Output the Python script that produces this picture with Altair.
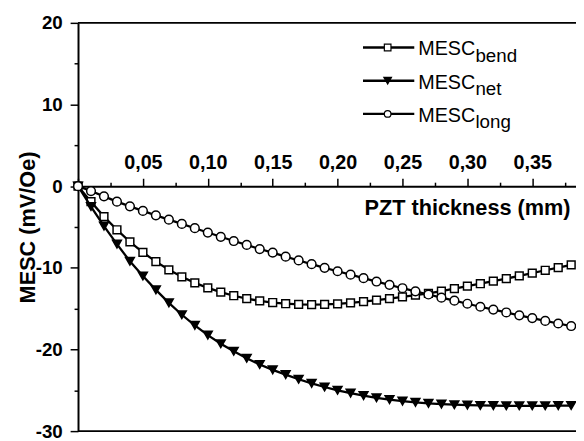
import altair as alt
import pandas as pd

# ---- data ----
thickness = [0.00, 0.01, 0.02, 0.03, 0.04, 0.05, 0.06, 0.07, 0.08, 0.09,
             0.10, 0.11, 0.12, 0.13, 0.14, 0.15, 0.16, 0.17, 0.18, 0.19,
             0.20, 0.21, 0.22, 0.23, 0.24, 0.25, 0.26, 0.27, 0.28, 0.29,
             0.30, 0.31, 0.32, 0.33, 0.34, 0.35, 0.36, 0.37, 0.38]

mesc_bend = [0.0, -1.9, -3.73, -5.34, -6.83, -8.11, -9.24, -10.24, -11.1, -11.84,
             -12.45, -12.98, -13.42, -13.77, -14.05, -14.25, -14.4, -14.47, -14.5, -14.48,
             -14.42, -14.3, -14.15, -13.97, -13.77, -13.56, -13.35, -13.12, -12.85, -12.55,
             -12.25, -11.95, -11.63, -11.32, -10.98, -10.65, -10.3, -9.97, -9.65]

mesc_net = [0.0, -2.5, -4.9, -7.1, -9.2, -11.0, -12.7, -14.3, -15.75, -17.05,
            -18.25, -19.3, -20.22, -21.08, -21.85, -22.5, -23.08, -23.65, -24.15, -24.6,
            -25.0, -25.35, -25.66, -25.92, -26.14, -26.33, -26.48, -26.6, -26.7, -26.77,
            -26.82, -26.86, -26.88, -26.9, -26.9, -26.9, -26.9, -26.88, -26.87]

mesc_long = [0.0, -0.6, -1.25, -1.9, -2.47, -3.03, -3.57, -4.1, -4.62, -5.15,
             -5.68, -6.2, -6.72, -7.2, -7.7, -8.15, -8.63, -9.1, -9.55, -10.0,
             -10.42, -10.84, -11.27, -11.68, -12.08, -12.5, -12.88, -13.27, -13.66, -14.03,
             -14.4, -14.77, -15.12, -15.47, -15.82, -16.16, -16.5, -16.82, -17.13]

x_ticks = [0.0, 0.025, 0.05, 0.075, 0.1, 0.125, 0.15, 0.175, 0.2, 0.225,
           0.25, 0.275, 0.3, 0.325, 0.35, 0.375]
y_ticks = [-30, -25, -20, -15, -10, -5, 0, 5, 10, 15, 20]

series_keys = ["bend", "net", "long"]
series_shapes = ["square", "triangle-down", "circle"]
series_fills = ["white", "black", "white"]
series_sizes = [62, 80, 78]

rows = []
for key, vals in zip(series_keys, [mesc_bend, mesc_net, mesc_long]):
    for t, v in zip(thickness, vals):
        rows.append({"t": t, "v": v, "s": key})
df = pd.DataFrame(rows)

# ---- layout ----
W, H = 505, 414
X_MAX = 0.3837
ZERO_Y = H * 20 / 50

FONT = "Liberation Sans, Arial, Helvetica, sans-serif"

x_major = "abs(datum.value*20 - round(datum.value*20)) < 0.001"

x_axis = alt.Axis(
    orient="top", offset=-ZERO_Y, values=x_ticks,
    labelExpr="(" + x_major + " && datum.value > 0.001) ? replace(format(datum.value, '.2f'), '.', ',') : ''",
    tickSize={"condition": {"test": x_major, "value": 8}, "value": 4},
    tickWidth=1.5, tickColor="black", domainColor="black", domainWidth=2,
    labelFont=FONT, labelFontWeight="bold", labelFontSize=20, labelColor="black",
    labelPadding=6, labelOverlap=False, labelFlush=False, labelBound=False, grid=False,
    title="PZT thickness (mm)", titleFont=FONT, titleFontSize=22, titleFontWeight="bold",
    titleColor="black", titleX=499, titleY=28.5, titleAlign="right",
    titleBaseline="alphabetic", titleAngle=0,
)

y_axis = alt.Axis(
    orient="left", values=y_ticks,
    labelExpr="datum.value % 10 == 0 ? toString(datum.value) : ''",
    tickSize={"condition": {"test": "datum.value % 10 == 0", "value": 8}, "value": 4},
    tickWidth=1.5, tickColor="black", domainColor="black", domainWidth=2,
    labelFont=FONT, labelFontWeight="bold", labelFontSize=19, labelColor="black",
    labelPadding=8, labelOverlap=False, labelFlush=False, labelBound=False, grid=False,
    title="MESC (mV/Oe)", titleFont=FONT, titleFontSize=22, titleFontWeight="bold",
    titleColor="black", titleX=-44, titleBaseline="alphabetic", titleAngle=-90,
)

xenc = alt.X("t:Q", scale=alt.Scale(domain=[0, X_MAX], nice=False, zero=False), axis=x_axis)
yenc = alt.Y("v:Q", scale=alt.Scale(domain=[-30, 20], nice=False, zero=False), axis=y_axis)

layers = []
for key, shape, fill, size in zip(series_keys, series_shapes, series_fills, series_sizes):
    base = alt.Chart(df).transform_filter(alt.datum.s == key)
    layers.append(base.mark_line(color="black", strokeWidth=2.3).encode(x=xenc, y=yenc))
    layers.append(base.mark_point(shape=shape, filled=True, fill=fill, stroke="black",
                                  strokeWidth=1.5, size=size, opacity=1).encode(x=xenc, y=yenc))

one = pd.DataFrame({"k": [0]})

# frame lines (top and bottom)
layers.append(alt.Chart(one).mark_rule(color="black", strokeWidth=2).encode(
    x=alt.value(0), x2=alt.value(W), y=alt.value(0)))
layers.append(alt.Chart(one).mark_rule(color="black", strokeWidth=2).encode(
    x=alt.value(0), x2=alt.value(W), y=alt.value(H)))

# legend
legend_subs = ["bend", "net", "long"]
legend_sizes = [45, 60, 45]
row_base = [33, 66.7, 100.3]
for i, (sub, shape, fill) in enumerate(zip(legend_subs, series_shapes, series_fills)):
    yb = row_base[i]
    ym = yb - 8
    layers.append(alt.Chart(one).mark_rule(color="black", strokeWidth=2.4).encode(
        x=alt.value(289), x2=alt.value(341), y=alt.value(ym)))
    layers.append(alt.Chart(one).mark_point(shape=shape, filled=True, fill=fill, stroke="black",
                                            strokeWidth=1.2, size=legend_sizes[i], opacity=1).encode(
        x=alt.value(314), y=alt.value(ym)))
    layers.append(alt.Chart(one).mark_text(text="MESC", align="left", baseline="alphabetic",
                                           font=FONT, fontSize=20, color="black").encode(
        x=alt.value(345), y=alt.value(yb)))
    layers.append(alt.Chart(one).mark_text(text=sub, align="left", baseline="alphabetic",
                                           font=FONT, fontSize=19, color="black").encode(
        x=alt.value(403), y=alt.value(yb + 6.5)))

chart = alt.layer(*layers).properties(
    width=W, height=H,
    autosize=alt.AutoSizeParams(type="none"),
    padding={"left": 71, "top": 12, "right": 0, "bottom": 10},
).configure_view(stroke=None)

chart.save("out.html", embed_options={"renderer": "svg", "actions": False})
